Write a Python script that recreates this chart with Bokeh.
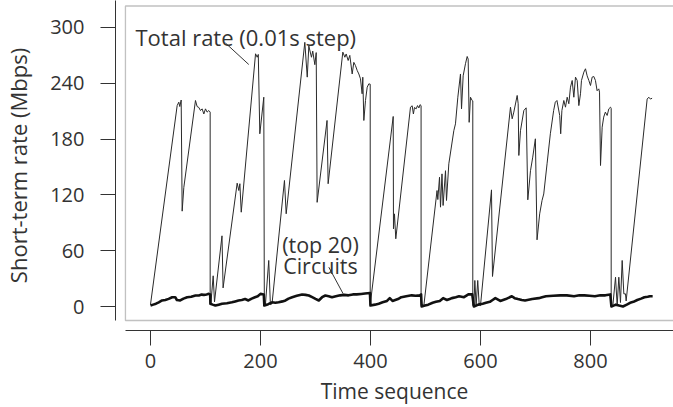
from bokeh.plotting import figure
from bokeh.models import FixedTicker, BoxAnnotation, Label
from bokeh.embed import file_html
from bokeh.resources import INLINE

# ---- data ----
total_t = [0, 48.5, 51.5, 53.3, 55.8, 57.6, 60.6, 81.8, 84.8, 87.9, 90.9, 93.9, 97, 100, 103, 106, 108.5, 108.5,
           109.7, 114, 116.4, 130, 132, 157.6, 160.6, 162.5, 165, 191, 194, 196, 198.8, 206, 207,
           209, 215, 218, 221, 243.6, 246.7, 280.6, 285, 287.9, 292.7, 295, 298.8, 301.3, 303, 321, 323,
           349.7, 353.4, 355.8, 359.4, 362.4, 366.7, 369.7, 372.7, 375.8, 378.8, 381.8, 384.8, 386, 387.9,
           390.9, 394, 397, 399.5, 399.5,
           441.3, 441.8, 443.6, 446, 472.7, 475.8, 478, 480, 483, 485.5, 488, 490, 492, 492,
           497, 521, 522.4, 525.5, 527.3, 530, 532, 536.4, 538.2, 542.4, 551.5, 554.5, 558.8, 563.6, 565.5,
           568.5, 572.7, 575.8, 577.6, 579.4, 581.8, 584.8, 586, 586,
           588, 589.7, 592, 595, 597.6, 600, 620, 621.8, 654.5, 657.6, 660.6, 666.7, 668.5, 669.7, 672.7,
           678.8, 683, 686, 690.9, 695, 699.8, 702.8, 707.6, 711.9, 715, 721, 727, 733, 736, 739, 744, 745.8,
           748, 751.5, 754.5, 757.6, 760.6, 763.6, 766.7, 769.7, 772.7, 775.8, 778.8, 781.8, 783.6, 787.9,
           790.9, 793.9, 797, 800, 803, 806, 809, 812, 815, 816.4, 818.2, 821.2, 824, 827, 830.3, 833.3,
           836.4, 837.6, 837.6,
           840.6, 845.5, 848.5, 851.5, 854.5, 857.6, 860.6, 863.6, 864.8, 903, 906, 909, 912]
total_rate = [2, 216, 219.7, 215, 222, 102.5, 128, 221.5, 215, 214, 210.7, 212.5, 207, 212.5, 209, 210.7, 209, 2,
              2.5, 33, 5, 76, 20, 132.6, 124.7, 132, 101.4, 271.7, 268, 271, 185.7, 225, 2,
              2, 49.5, 2, 3, 135.5, 99.7, 284, 246.6, 280, 268, 274.6, 260, 273, 112, 200, 132,
              273.5, 268, 271.5, 264.5, 270, 250, 262.5, 259, 253.8, 250, 244.8, 228.7, 246.5, 200,
              221.5, 235.8, 239.4, 239, 2,
              204.3, 83.5, 99.6, 72.8, 214.3, 215.8, 207, 214, 212.5, 216, 213.5, 217, 216, 1,
              1, 124.7, 115, 139, 106.8, 142.6, 108.6, 146, 114, 153.4, 189, 196.4, 225, 250, 212.5,
              248, 261, 268.8, 266, 198, 225, 221.5, 221, 1,
              1, 28, 1, 28, 2, 1, 125.4, 32.3, 214.3, 201.8, 209, 226.9, 218, 162.4, 189,
              210.7, 213.6, 114.7, 146, 160.6, 180.3, 71.7, 99.6, 114, 121, 153.4, 185.7, 210.7, 219.7, 221.5, 205.4, 185.7,
              210.7, 221.5, 214.3, 225, 218, 235.8, 243, 225, 246.6, 243, 216, 228.7, 243, 252,
              255.6, 248, 243, 237.6, 246.6, 247.3, 243, 232, 234, 230.5, 151.6, 192.8, 203.6, 209, 205.4, 212.5,
              214.3, 213, 1,
              1, 31.5, 1, 31.5, 4.3, 49.5, 13.6, 13.6, 6, 223, 225, 223, 224]

circ_t = [0, 5, 10, 15, 21, 27, 33, 39.4, 45, 48, 54, 60, 66.7, 74, 81.8, 88, 93, 97, 102, 106, 108.5,
          109, 113, 118, 124, 130, 139, 148, 154, 160, 166, 172, 178, 184, 190, 195, 200, 206,
          207, 214, 221, 227, 233, 240, 245.5, 251, 257.6, 266, 275.7, 282, 287.9, 294, 300, 306, 312, 318,
          324, 330, 337, 345, 352, 360, 368, 375, 383, 390, 399,
          400, 408, 415, 422, 430, 435, 440, 445, 450, 456, 465, 475, 482, 490, 492,
          493, 499, 505, 513, 519, 526, 532, 539, 544, 548, 555, 561, 570, 578, 585,
          588, 592, 596, 604, 610, 617, 622, 627, 636, 646, 657, 662, 668, 675, 681, 694, 706, 712, 719,
          732, 745, 757, 770, 780, 789, 798, 808, 818, 827, 836,
          838, 842, 846, 852, 859, 866, 872, 878, 885, 892, 898, 904, 908, 913]
circ_rate = [1, 2, 3, 4.5, 6.5, 7, 8.2, 10, 10, 7, 6.5, 8.5, 10, 10.5, 11.8, 11.8, 12.8, 12.5, 13, 13.6, 13,
             3, 2, 1, 2, 3, 3.5, 4.5, 5.5, 6.5, 7, 8, 6.5, 8.5, 10, 11, 13.6, 13,
             1, 2.5, 4.5, 4, 4.5, 5.5, 6.5, 8.5, 10, 11.5, 12.9, 12.5, 11.8, 10, 8.2, 6.5, 10, 11.8,
             11, 10, 11, 12, 12.5, 12, 13, 13, 13.5, 14, 14.5,
             1, 2, 3, 4.5, 6, 9, 6, 7, 8, 10, 11, 12, 11.5, 12, 13,
             0, 1, 2, 4, 5, 6, 9, 7, 8, 9, 10, 11, 10, 13, 13,
             0, 1, 2, 3, 4, 5, 7, 9, 6, 8, 11, 9, 8, 7, 6.5, 8, 9, 10, 11,
             11.5, 12, 12, 11, 12, 12, 11.5, 11, 12, 12, 13,
             0, 1, 2, 1, 0, 2, 4, 5, 7, 8.5, 10, 10.5, 11, 11]

x_ticks = [0, 200, 400, 600, 800]
y_ticks = [0, 60, 120, 180, 240, 300]

# titles, annotation text and leader lines
x_title = "Time sequence"
y_title = "Short-term rate (Mbps)"
label_total = "Total rate (0.01s step)"
label_circ1 = "(top 20)"
label_circ2 = "Circuits"
lead_total_x = [136.4, 178.7]
lead_total_y = [283.2, 260.2]
lead_circ_x = [324.2, 350.3]
lead_circ_y = [42.3, 13.7]

FONT = "Open Sans"
INK = "#333333"

p = figure(width=673, height=407, x_range=(-63.6, 950.9), y_range=(-25.8, 329.0),
           output_backend="svg", toolbar_location=None,
           min_border_left=115, min_border_right=0, min_border_top=0, min_border_bottom=77)
p.outline_line_color = None
p.grid.visible = False
p.background_fill_color = "white"

for ax, ticks in ((p.xaxis, x_ticks), (p.yaxis, y_ticks)):
    ax.ticker = FixedTicker(ticks=ticks)
    ax.major_tick_out = 15
    ax.major_tick_in = 0
    ax.minor_tick_out = 0
    ax.minor_tick_in = 0
    ax.axis_line_color = INK
    ax.major_tick_line_color = INK
    ax.major_label_text_font = FONT
    ax.major_label_text_font_size = "20px"
    ax.major_label_text_color = INK
    ax.axis_label_text_font = FONT
    ax.axis_label_text_font_style = "normal"
    ax.axis_label_text_color = INK

p.xaxis.bounds = (-45.5, 950.9)
p.yaxis.bounds = (-15.05, 329.0)
p.xaxis.axis_label = x_title
p.xaxis.axis_label_text_font_size = "21px"
p.xaxis.major_label_standoff = 8
p.xaxis.axis_label_standoff = 6
p.yaxis.axis_label = y_title
p.yaxis.axis_label_text_font_size = "22px"
p.yaxis.major_label_standoff = 16
p.yaxis.axis_label_standoff = 14

box = BoxAnnotation(left=-45.5, right=2000, bottom=-15.05, top=323.1,
                    fill_alpha=0, line_color=INK, line_width=1.3)
p.add_layout(box)

p.line(total_t, total_rate, line_color="#2a2a2a", line_width=1)
p.line(circ_t, circ_rate, line_color="#111111", line_width=2.6, line_join="round")

p.line(lead_total_x, lead_total_y, line_color=INK, line_width=1)
p.line(lead_circ_x, lead_circ_y, line_color=INK, line_width=1)

p.add_layout(Label(x=-27.3, y=289.6, text=label_total, text_font=FONT, text_font_size="22px",
                   text_color=INK, text_baseline="alphabetic"))
p.add_layout(Label(x=309, y=67.2, text=label_circ1, text_font=FONT, text_font_size="21.5px",
                   text_color=INK, text_baseline="alphabetic", text_align="center"))
p.add_layout(Label(x=309, y=44, text=label_circ2, text_font=FONT, text_font_size="21.5px",
                   text_color=INK, text_baseline="alphabetic", text_align="center"))

open("out.html", "w").write(file_html(p, INLINE))
